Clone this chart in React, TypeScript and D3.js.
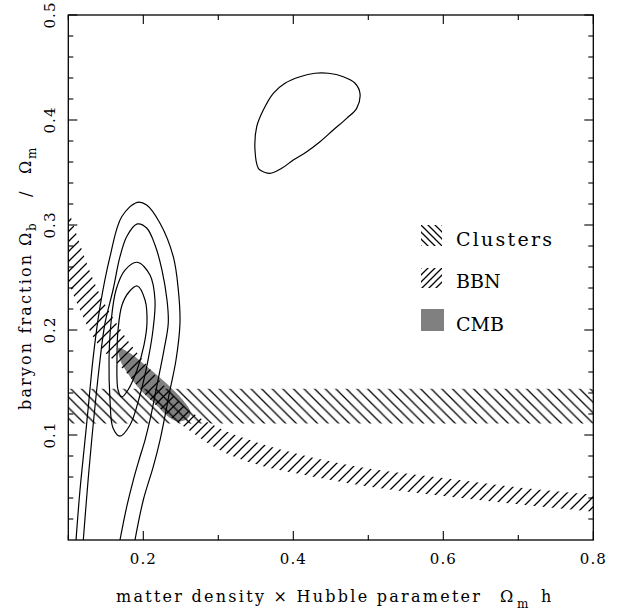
import React from 'react';
import * as d3 from 'd3';

const W = 623;
const H = 614;

// axis ticks
const xTicksMajor = [0.2, 0.4, 0.6, 0.8];
const xTicksMinor = [0.1, 0.3, 0.5, 0.7];
const xTickLabels = ['0.2', '0.4', '0.6', '0.8'];
const yTicksMajor = [0.1, 0.2, 0.3, 0.4, 0.5];
const yTickLabels = ['0.1', '0.2', '0.3', '0.4', '0.5'];
const yTicksMinor = [0.02, 0.04, 0.06, 0.08, 0.12, 0.14, 0.16, 0.18, 0.22, 0.24, 0.26, 0.28,
  0.32, 0.34, 0.36, 0.38, 0.42, 0.44, 0.46, 0.48];

// Clusters band (constant baryon fraction)
const clustersX = [0.1, 0.8];
const clustersLow = [0.111, 0.111];
const clustersHigh = [0.144, 0.144];

// BBN band
const bbnX = [0.1, 0.138, 0.17, 0.21, 0.26, 0.306, 0.356, 0.4, 0.5, 0.6, 0.7, 0.8];
const bbnUpper = [0.315, 0.24, 0.2, 0.162, 0.124, 0.105, 0.092, 0.083, 0.068, 0.059, 0.05, 0.043];
const bbnLower = [0.245, 0.188, 0.165, 0.133, 0.105, 0.084, 0.071, 0.064, 0.051, 0.042, 0.034, 0.027];

// CMB region
const cmbRegion: [number, number][] = [
  [0.167, 0.183], [0.182, 0.178], [0.205, 0.165], [0.231, 0.149], [0.253, 0.133],
  [0.263, 0.121], [0.258, 0.115], [0.245, 0.113], [0.232, 0.118], [0.218, 0.128],
  [0.196, 0.143], [0.178, 0.16], [0.169, 0.172],
];

// likelihood contours (open ones run off the bottom axis)
const contour1: [number, number][] = [
  [0.1103, 0], [0.1156, 0.0476], [0.1223, 0.0952], [0.1267, 0.127], [0.1333, 0.1746],
  [0.1423, 0.2222], [0.1556, 0.2698], [0.1712, 0.3079], [0.192, 0.3216], [0.2045, 0.319],
  [0.2223, 0.3016], [0.24, 0.2698], [0.2467, 0.2381], [0.2489, 0.2067], [0.2436, 0.1714],
  [0.2356, 0.1429], [0.2223, 0.0952], [0.2133, 0.0698], [0.2, 0.0381], [0.1889, 0],
];
const contour2: [number, number][] = [
  [0.12, 0], [0.1253, 0.0476], [0.1312, 0.0952], [0.1423, 0.1714], [0.149, 0.2067],
  [0.1596, 0.2381], [0.1689, 0.2698], [0.1783, 0.2895], [0.192, 0.301], [0.2045, 0.2971],
  [0.2156, 0.281], [0.2249, 0.2571], [0.2316, 0.2286], [0.2333, 0.2067], [0.2276, 0.181],
  [0.2183, 0.1476], [0.2089, 0.1143], [0.2023, 0.0952], [0.1943, 0.0762], [0.1867, 0.0571],
  [0.1779, 0.0317], [0.1689, 0],
];
const contour3: [number, number][] = [
  [0.192, 0.2645], [0.2089, 0.2524], [0.2156, 0.2286], [0.2129, 0.2], [0.2063, 0.1714],
  [0.1956, 0.1381], [0.1823, 0.1095], [0.1689, 0.099], [0.1596, 0.1067], [0.1556, 0.1333],
  [0.1543, 0.1714], [0.1569, 0.2067], [0.1636, 0.2381], [0.1756, 0.2571],
];
const contour4: [number, number][] = [
  [0.192, 0.2419], [0.2023, 0.2286], [0.2049, 0.2067], [0.2009, 0.1857], [0.1916, 0.1619],
  [0.1796, 0.1429], [0.1712, 0.1362], [0.1663, 0.1429], [0.1649, 0.1714], [0.1663, 0.2],
  [0.1716, 0.2238], [0.1809, 0.2362],
];
const contour5: [number, number][] = [
  [0.3533, 0.354], [0.3489, 0.3714], [0.3512, 0.3936], [0.36, 0.4095], [0.3733, 0.4254],
  [0.3889, 0.435], [0.4089, 0.4412], [0.4289, 0.4445], [0.4467, 0.4445], [0.4667, 0.4412],
  [0.4823, 0.435], [0.4889, 0.4254], [0.4845, 0.4111], [0.4712, 0.4016], [0.4533, 0.3905],
  [0.4356, 0.3793], [0.4179, 0.3698], [0.4, 0.3619], [0.3845, 0.354], [0.3689, 0.3492],
  [0.3556, 0.3524],
];

const legendItems = ['Clusters', 'BBN', 'CMB'];

const FONT = "'DejaVu Serif', 'Liberation Serif', serif";

export default function App() {
  const left = 68.3, right = 593.3, top = 15, bottom = 540;
  const x = d3.scaleLinear().domain([0.1, 0.8]).range([left, right]);
  const y = d3.scaleLinear().domain([0, 0.5]).range([bottom, top]);

  const clustersArea = d3.area<number>()
    .x((_, i) => x(clustersX[i]))
    .y0((_, i) => y(clustersLow[i]))
    .y1((_, i) => y(clustersHigh[i]))(clustersX);

  const bbnArea = d3.area<number>()
    .x((_, i) => x(bbnX[i]))
    .y0((_, i) => y(bbnLower[i]))
    .y1((_, i) => y(bbnUpper[i]))
    .curve(d3.curveMonotoneX)(bbnX);

  const closed = d3.line<[number, number]>().x(d => x(d[0])).y(d => y(d[1]))
    .curve(d3.curveCatmullRomClosed.alpha(0.5));
  const open = d3.line<[number, number]>().x(d => x(d[0])).y(d => y(d[1]))
    .curve(d3.curveCatmullRom.alpha(0.5));

  const s1 = 10.6; // clusters hatch spacing
  const s2 = 10; // bbn hatch spacing
  const ls = 7;
  const hw = 1.25;

  const majorLen = 9, minorLen = 5;

  return (
    <svg width={W} height={H} style={{ position: 'absolute', left: 0, top: 0, background: '#fff' }}
      fontFamily={FONT}>
      <defs>
        <clipPath id="plot">
          <rect x={left} y={top} width={right - left} height={bottom - top} />
        </clipPath>
        <pattern id="hatchBack" patternUnits="userSpaceOnUse" width={s1} height={s1}>
          <path d={`M0,0 L${s1},${s1} M-2,${s1 - 2} L2,${s1 + 2} M${s1 - 2},-2 L${s1 + 2},2`}
            stroke="#000" strokeWidth={hw} />
        </pattern>
        <pattern id="hatchFwd" patternUnits="userSpaceOnUse" width={s2} height={s2}>
          <path d={`M0,${s2} L${s2},0 M-2,2 L2,-2 M${s2 - 2},${s2 + 2} L${s2 + 2},${s2 - 2}`}
            stroke="#000" strokeWidth={hw} />
        </pattern>
        <pattern id="legBack" patternUnits="userSpaceOnUse" width={ls} height={ls} x={421} y={225}>
          <path d={`M0,0 L${ls},${ls} M-2,${ls - 2} L2,${ls + 2} M${ls - 2},-2 L${ls + 2},2`}
            stroke="#000" strokeWidth={hw} />
        </pattern>
        <pattern id="legFwd" patternUnits="userSpaceOnUse" width={ls} height={ls} x={421} y={268}>
          <path d={`M0,${ls} L${ls},0 M-2,2 L2,-2 M${ls - 2},${ls + 2} L${ls + 2},${ls - 2}`}
            stroke="#000" strokeWidth={hw} />
        </pattern>
      </defs>

      <g clipPath="url(#plot)">
        <path d={closed(cmbRegion) || ''} fill="#808080" stroke="none" />
        <path d={clustersArea || ''} fill="url(#hatchBack)" stroke="none" />
        <path d={bbnArea || ''} fill="url(#hatchFwd)" stroke="none" />
        {[contour1, contour2].map((c, i) => (
          <path key={'o' + i} d={open(c) || ''} fill="none" stroke="#000" strokeWidth={1.2} />
        ))}
        {[contour3, contour4, contour5].map((c, i) => (
          <path key={'c' + i} d={closed(c) || ''} fill="none" stroke="#000" strokeWidth={1.2} />
        ))}
      </g>

      {/* frame */}
      <rect x={left} y={top} width={right - left} height={bottom - top} fill="none" stroke="#000" strokeWidth={1.3} />

      {/* ticks */}
      <g stroke="#000" strokeWidth={1.1}>
        {xTicksMajor.map(v => (
          <g key={'xM' + v}>
            <line x1={x(v)} x2={x(v)} y1={bottom} y2={bottom - majorLen} />
            <line x1={x(v)} x2={x(v)} y1={top} y2={top + majorLen} />
          </g>
        ))}
        {xTicksMinor.map(v => (
          <g key={'xm' + v}>
            <line x1={x(v)} x2={x(v)} y1={bottom} y2={bottom - minorLen} />
            <line x1={x(v)} x2={x(v)} y1={top} y2={top + minorLen} />
          </g>
        ))}
        {yTicksMajor.map(v => (
          <g key={'yM' + v}>
            <line x1={left} x2={left + majorLen} y1={y(v)} y2={y(v)} />
            <line x1={right} x2={right - majorLen} y1={y(v)} y2={y(v)} />
          </g>
        ))}
        {yTicksMinor.map(v => (
          <g key={'ym' + v}>
            <line x1={left} x2={left + minorLen} y1={y(v)} y2={y(v)} />
            <line x1={right} x2={right - minorLen} y1={y(v)} y2={y(v)} />
          </g>
        ))}
      </g>

      {/* tick labels */}
      {xTicksMajor.map((v, i) => (
        <text key={'xl' + v} x={x(v)} y={564} fontSize={15} textAnchor="middle" letterSpacing={1}>
          {xTickLabels[i]}
        </text>
      ))}
      {yTicksMajor.map((v, i) => (
        <text key={'yl' + v} transform={`translate(55,${y(v)}) rotate(-90)`} fontSize={15}
          textAnchor="middle" letterSpacing={1}>
          {yTickLabels[i]}
        </text>
      ))}

      {/* x axis title */}
      <text x={116} y={602} fontSize={16} textLength={364} lengthAdjust="spacing">
        matter density × Hubble parameter
      </text>
      <text x={500} y={602} fontSize={16}>Ω</text>
      <text x={517} y={608} fontSize={12}>m</text>
      <text x={541} y={602} fontSize={16}>h</text>

      {/* y axis title */}
      <g transform="translate(31,0) rotate(-90)">
        <text x={-410} y={0} fontSize={16} textLength={155} lengthAdjust="spacing">baryon fraction</text>
        <text x={-246} y={0} fontSize={16}>Ω</text>
        <text x={-231} y={5} fontSize={12}>b</text>
        <text x={-197} y={0} fontSize={16}>/</text>
        <text x={-174} y={0} fontSize={16}>Ω</text>
        <text x={-159} y={5} fontSize={12}>m</text>
      </g>

      {/* legend */}
      <rect x={421} y={225} width={21} height={21} fill="url(#legBack)" />
      <text x={456} y={246} fontSize={19} textLength={96} lengthAdjust="spacing">{legendItems[0]}</text>
      <rect x={421} y={268} width={21} height={20} fill="url(#legFwd)" />
      <text x={456} y={288} fontSize={19}>{legendItems[1]}</text>
      <rect x={421} y={309} width={23} height={22} fill="#808080" />
      <text x={456} y={331} fontSize={19}>{legendItems[2]}</text>
    </svg>
  );
}
